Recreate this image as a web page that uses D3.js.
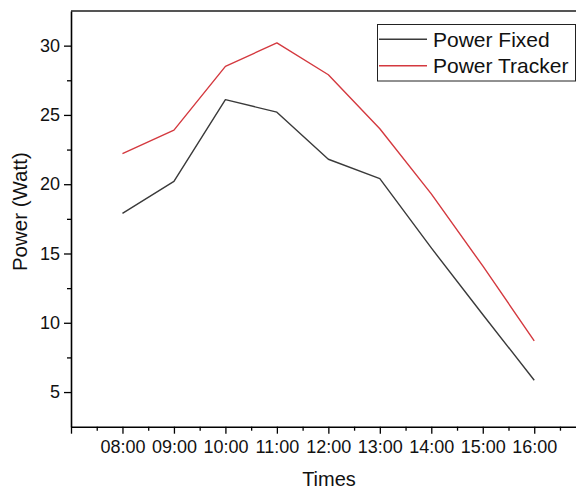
<!DOCTYPE html>
<html>
<head>
<meta charset="utf-8">
<script src="https://cdn.jsdelivr.net/npm/d3@7"></script>
<style>
  body { margin: 0; background: #fff; }
  svg { display: block; font-family: "Liberation Sans", Arial, sans-serif; }
</style>
</head>
<body>
<div id="chart-container"></div>
<script>
// Data
var hours = [8, 9, 10, 11, 12, 13, 14, 15, 16];
var hourLabels = ["08:00", "09:00", "10:00", "11:00", "12:00", "13:00", "14:00", "15:00", "16:00"];
var powerFixed = [17.9, 20.2, 26.1, 25.2, 21.8, 20.4, 15.4, 10.6, 5.85];
var powerTracker = [22.2, 23.9, 28.5, 30.2, 27.9, 24.0, 19.3, 14.1, 8.7];
var seriesNames = ["Power Fixed", "Power Tracker"];
var seriesColors = ["#3a3a3a", "#d4393f"];
var yTicks = [5, 10, 15, 20, 25, 30];

var width = 576, height = 490;
var margin = {top: 11, left: 71, bottom: 64};

var svg = d3.select("#chart-container")
            .append("svg")
            .attr("width", width)
            .attr("height", height);

// x runs one hour past each end, the right side is cut by the picture edge
var x = d3.scaleLinear()
          .domain([7, 17])
          .range([margin.left, 585.7]);

var y = d3.scaleLinear()
          .domain([2.5, 32.5])
          .range([height - margin.bottom + 0.7, margin.top]);

var yBottom = y(2.5);

// top frame line
svg.append("line")
   .attr("x1", margin.left)
   .attr("x2", width)
   .attr("y1", y(32.5))
   .attr("y2", y(32.5))
   .attr("stroke", "#555")
   .attr("stroke-width", 2.2);

// minor ticks
svg.append("g")
   .attr("transform", "translate(0," + yBottom + ")")
   .call(d3.axisBottom(x).tickValues(d3.range(7.5, 17, 1)).tickSize(4).tickFormat(""))
   .call(function(g) { g.select(".domain").remove(); })
   .selectAll("line").attr("stroke-width", 1.3);

svg.append("g")
   .attr("transform", "translate(" + margin.left + ",0)")
   .call(d3.axisLeft(y).tickValues([7.5, 12.5, 17.5, 22.5, 27.5]).tickSize(4).tickFormat(""))
   .call(function(g) { g.select(".domain").remove(); })
   .selectAll("line").attr("stroke-width", 1.3);

// major axes
var xAxis = d3.axisBottom(x)
              .tickValues([7].concat(hours, [17]))
              .tickSize(7)
              .tickPadding(7)
              .tickSizeOuter(0)
              .tickFormat(function(d) {
                  var i = hours.indexOf(d);
                  return i < 0 ? "" : hourLabels[i];
              });

var xg = svg.append("g")
   .attr("transform", "translate(0," + yBottom + ")")
   .call(xAxis);
xg.select(".domain").attr("stroke-width", 1.6);
xg.selectAll("line").attr("stroke-width", 1.3);
xg.selectAll("text").attr("font-size", "18px").attr("fill", "#111");

var yAxis = d3.axisLeft(y)
              .tickValues(yTicks)
              .tickSize(7)
              .tickPadding(4)
              .tickSizeOuter(0);

var yg = svg.append("g")
   .attr("transform", "translate(" + margin.left + ",0)")
   .call(yAxis);
yg.select(".domain").attr("stroke-width", 1.6);
yg.selectAll("line").attr("stroke-width", 1.3);
yg.selectAll("text").attr("font-size", "18px").attr("fill", "#111");

// lines
var line = d3.line()
             .x(function(d, i) { return x(hours[i]); })
             .y(function(d) { return y(d); });

[powerFixed, powerTracker].forEach(function(values, k) {
    svg.append("path")
       .datum(values)
       .attr("fill", "none")
       .attr("stroke", seriesColors[k])
       .attr("stroke-width", 1.4)
       .attr("stroke-linejoin", "round")
       .attr("d", line);
});

// legend
var legend = svg.append("g");
legend.append("rect")
      .attr("x", 377.5)
      .attr("y", 24.5)
      .attr("width", 198)
      .attr("height", 56.5)
      .attr("fill", "#fff")
      .attr("stroke", "#222")
      .attr("stroke-width", 1);

seriesNames.forEach(function(name, k) {
    var ly = 39.3 + k * 26.5;
    legend.append("line")
          .attr("x1", 379)
          .attr("x2", 427)
          .attr("y1", ly)
          .attr("y2", ly)
          .attr("stroke", seriesColors[k])
          .attr("stroke-width", 1.4);
    legend.append("text")
          .attr("x", 433)
          .attr("y", ly + 7.3)
          .attr("font-size", "21px")
          .attr("fill", "#111")
          .text(name);
});

// axis titles
svg.append("text")
   .attr("x", 329)
   .attr("y", 486)
   .attr("font-size", "20px")
   .attr("fill", "#111")
   .style("text-anchor", "middle")
   .text("Times");

svg.append("text")
   .attr("transform", "translate(26.5,211.7) rotate(-90)")
   .attr("font-size", "20.5px")
   .attr("fill", "#111")
   .style("text-anchor", "middle")
   .text("Power (Watt)");
</script>
</body>
</html>
